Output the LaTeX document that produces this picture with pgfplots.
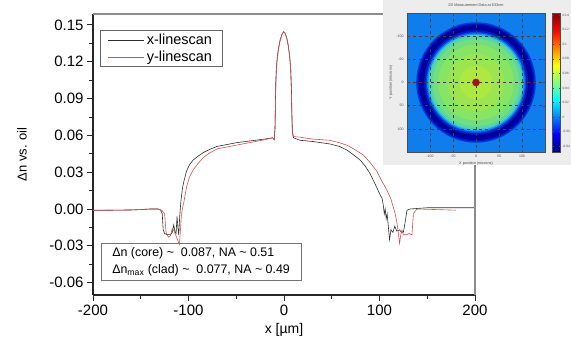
\documentclass[border=0pt]{standalone}
\usepackage{pgfplots}
\pgfplotsset{compat=1.18}
\usepackage{fontspec}
\setmainfont{Liberation Sans}
\definecolor{cblack}{RGB}{45,45,45}
\definecolor{cred}{RGB}{215,80,80}
\definecolor{bgblue}{RGB}{15,125,235}
\definecolor{r1}{RGB}{0,60,215}
\definecolor{r2}{RGB}{0,20,190}
\definecolor{r3}{RGB}{0,0,160}
\definecolor{r4}{RGB}{0,0,150}
\definecolor{r5}{RGB}{0,25,195}
\definecolor{r6}{RGB}{0,75,228}
\definecolor{r7}{RGB}{20,150,235}
\definecolor{r8}{RGB}{60,200,205}
\definecolor{r9}{RGB}{90,215,160}
\definecolor{r10}{RGB}{115,222,125}
\definecolor{r11}{RGB}{135,228,100}
\definecolor{r12}{RGB}{155,230,80}
\definecolor{r13}{RGB}{175,232,65}
\definecolor{dotred}{RGB}{205,0,0}
\begin{document}
\begin{tikzpicture}
\useasboundingbox (0,0) rectangle (571pt,346pt);
\begin{axis}[
 at={(93pt,51pt)}, anchor=south west, scale only axis,
 width=382pt, height=281pt,
 xmin=-200, xmax=200, ymin=-0.0701, ymax=0.1589,
 axis x line*=bottom, axis y line*=left,
 axis line style={line width=1.1pt, black!85, -},
 tick align=outside,
 xtick={-200,-100,0,100,200}, minor x tick num=1,
 ytick={-0.06,-0.03,0,0.03,0.06,0.09,0.12,0.15}, minor y tick num=1,
 major tick length=6pt, minor tick length=3.5pt,
 tick style={line width=0.9pt, black!85},
 scaled y ticks=false,
 yticklabel={\pgfmathprintnumber[fixed,fixed zerofill,precision=2]{\tick}},
 /pgf/number format/assume math mode=true,
 tick label style={font=\fontsize{15}{15}\selectfont},
 xlabel={x [µm]}, ylabel={Δn vs. oil},
 xlabel style={at={(axis description cs:0.5,-0.1246)}, anchor=center, font=\fontsize{14}{14}\selectfont},
 ylabel style={at={(axis description cs:-0.186,0.5)}, anchor=center, font=\fontsize{13}{13}\selectfont},
 clip mode=individual,
 legend style={at={(axis description cs:0.018,0.943)}, anchor=north west, draw=black!60, line width=0.6pt,
   font=\fontsize{14.5}{15}\selectfont, inner xsep=8pt, inner ysep=1.5pt, row sep=1pt},
 legend cell align=left,
 legend image code/.code={\draw[#1] (0pt,0pt) -- (36pt,0pt);},
]
\addplot[cblack, line width=0.6pt] coordinates {
(-200,-0.001) (-180,-0.001) (-160,-0.0008) (-150,-0.0005) (-140,0.0) (-132,0.0) (-129,-0.001)
(-127.5,-0.004) (-126.5,-0.017) (-125,-0.020) (-122,-0.021) (-119,-0.021) (-117,-0.019)
(-115.5,-0.013) (-114,-0.019) (-113,-0.020) (-112,-0.006) (-111,-0.016) (-110.2,-0.021)
(-109.2,-0.006) (-108,0.006) (-106.5,0.016) (-105,0.022) (-102,0.031) (-99,0.036) (-95,0.040)
(-90,0.043) (-84.5,0.046) (-78,0.0485) (-70,0.051) (-60,0.0525) (-50,0.054) (-40,0.055)
(-30,0.056) (-20,0.057) (-12,0.058) (-10.2,0.0565) (-9.8,0.062) (-9.4,0.066) (-9.0,0.085)
(-8.6,0.103) (-8,0.114) (-7,0.124) (-5.5,0.132) (-4,0.138) (-2,0.1425) (-0.5,0.1445)
(1,0.1435) (3,0.139) (4.5,0.133) (6,0.124) (7,0.114) (7.8,0.097) (8.3,0.077) (8.8,0.063)
(9.3,0.061) (10,0.058) (16.8,0.056) (30,0.055) (48,0.053) (58,0.051) (66,0.048) (73,0.044)
(79.6,0.040) (85,0.035) (90,0.029) (95,0.021) (98.6,0.015) (101,0.011) (102.6,0.009)
(104,0.003) (105,-0.004) (106,0.0) (107,-0.008) (108,-0.004) (109,-0.012) (110.5,-0.025)
(112,-0.017) (114,-0.019) (116,-0.014) (118,-0.018) (121,-0.017) (123,-0.019) (125,-0.019)
(127,-0.010) (128.8,-0.001) (132,0.0) (150,0.001) (170,0.001) (200,0.001)
};
\addlegendentry{x-linescan}
\addplot[cred, line width=0.6pt] coordinates {
(-200,-0.0012) (-180,-0.001) (-160,-0.0008) (-140,0.0) (-132,0.0) (-128,-0.001) (-125,-0.004)
(-123.5,-0.019) (-121,-0.023) (-119,-0.022) (-117,-0.016) (-115,-0.018) (-113,-0.022)
(-111,-0.026) (-109.5,-0.029) (-108.5,-0.018) (-107.5,-0.006) (-106.5,0.0) (-105,0.005)
(-102,0.018) (-99,0.026) (-95,0.032) (-90,0.037) (-84.5,0.042) (-78,0.0455) (-70,0.049)
(-60,0.0505) (-50,0.052) (-40,0.0535) (-30,0.055) (-20,0.0565) (-12,0.058) (-10.2,0.057)
(-9.6,0.062) (-9.2,0.072) (-8.8,0.092) (-8.3,0.108) (-7.5,0.119) (-6,0.129) (-4,0.137)
(-2,0.1425) (-0.5,0.144) (1,0.1435) (3,0.139) (4.5,0.133) (6,0.124) (7,0.114) (7.7,0.098)
(8.2,0.077) (8.7,0.063) (9.2,0.060) (10,0.059) (16.8,0.0585) (30,0.057) (48,0.056)
(58,0.054) (66,0.052) (75,0.048) (83,0.044) (90,0.038) (97,0.031) (103,0.022) (108,0.015)
(112,0.008) (115,0.0) (116.5,-0.004) (118,-0.010) (119.5,-0.018) (121,-0.028) (122.5,-0.020)
(123.5,-0.017) (125,-0.021) (128,-0.021) (131,-0.020) (134,-0.021) (135.5,-0.004)
(139,0.0) (160,-0.0005) (180,-0.001)
};
\addlegendentry{y-linescan}
\draw[black!45, line width=1.4pt] (rel axis cs:0,1) -- (rel axis cs:1,1) -- (rel axis cs:1,0);
\node[draw=black!55, line width=0.6pt, anchor=north west, align=left,
  font=\fontsize{12.4}{17}\selectfont, inner xsep=11pt, inner ysep=4pt]
  at (rel axis cs:0.021,0.185)
  {Δn (core) \textasciitilde\ \ 0.087, NA \textasciitilde\ 0.51\\
   Δn\textsubscript{max} (clad) \textasciitilde\ \ 0.077, NA \textasciitilde\ 0.49};
\end{axis}
% inset panel
\fill[black!7] (383pt,181pt) rectangle (571pt,346pt);
\begin{axis}[
 at={(407pt,194pt)}, anchor=south west, scale only axis,
 width=138pt, height=139pt,
 xmin=-150, xmax=150, ymin=-150, ymax=150, y dir=reverse,
 axis background/.style={fill=bgblue},
 axis on top,
 axis line style={line width=0.4pt, black!70},
 xtick={-100,-50,0,50,100}, ytick={-100,-50,0,50,100},
 tick style={line width=0.3pt, black!70}, major tick length=2pt,
 grid=major, major grid style={dashed, black!75, line width=0.35pt},
 /pgf/number format/assume math mode=true,
 tick label style={font=\fontsize{3.5}{4}\selectfont, black!70},
 title={2D Measurement Data at 633nm},
 title style={font=\fontsize{3.8}{4}\selectfont, black!70, yshift=-3pt},
 xlabel={X position (microns)}, ylabel={Y position (microns)},
 label style={font=\fontsize{3.8}{4}\selectfont, black!70},
 xlabel style={yshift=3pt}, ylabel style={yshift=-3pt},
 colorbar, colormap/jet, point meta min=-0.048, point meta max=0.143,
 colorbar style={width=8pt, at={(parent axis.north east)}, anchor=north west, xshift=-1pt,
   ytick={-0.04,-0.02,0,0.02,0.04,0.06,0.08,0.1,0.12,0.14},
   scaled y ticks=false,
   yticklabel={\pgfmathprintnumber[fixed,precision=2]{\tick}},
   /pgf/number format/assume math mode=true,
   yticklabel style={font=\fontsize{3.2}{4}\selectfont, black!70, xshift=-1.5pt},
   axis line style={line width=0.3pt, black!70}, major tick length=1.5pt},
]
\fill[r1] (axis cs:0,0) circle [radius=130];
\fill[r2] (axis cs:0,0) circle [radius=127];
\fill[r3] (axis cs:0,0) circle [radius=124];
\fill[r4] (axis cs:0,0) circle [radius=118];
\fill[r5] (axis cs:0,0) circle [radius=113];
\fill[r6] (axis cs:0,0) circle [radius=109];
\fill[r7] (axis cs:0,0) circle [radius=106];
\fill[r8] (axis cs:0,0) circle [radius=103];
\fill[r9] (axis cs:0,0) circle [radius=100];
\fill[r10] (axis cs:0,0) circle [radius=94];
\fill[r11] (axis cs:0,0) circle [radius=82];
\fill[r12] (axis cs:0,0) circle [radius=62];
\fill[r13] (axis cs:0,0) circle [radius=36];
\fill[dotred] (axis cs:0,0) circle [radius=8.3];
\end{axis}
\end{tikzpicture}
\end{document}
